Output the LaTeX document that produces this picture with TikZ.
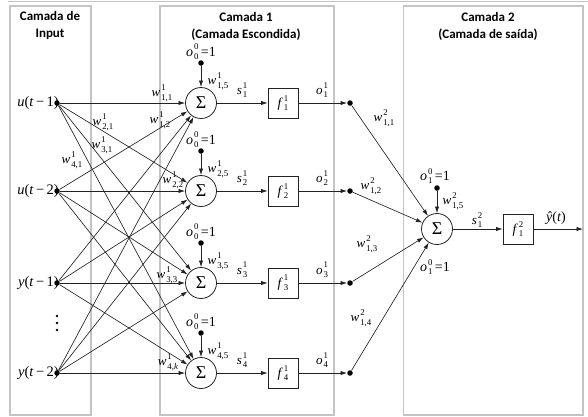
\documentclass[tikz,border=0pt]{standalone}
\usepackage{fontspec}
\setmainfont{Liberation Serif}
\newfontfamily\hdrfont{Carlito}
\usetikzlibrary{arrows.meta}

\definecolor{boxgray}{HTML}{C4C4C4}
\definecolor{linecol}{HTML}{222222}

% small indices, and a symbol with a superscript stacked over a subscript
\newcommand\idxfont{\fontsize{8.8}{9}\selectfont}
\newcommand\wl[3]{\textit{#1}\kern0.9pt\makebox[0pt][l]{\raisebox{6.2pt}{\idxfont #2}}\raisebox{-3.6pt}{\idxfont #3}}

\tikzset{
  layerbox/.style={draw=boxgray, line width=1.1pt},
  conn/.style={draw=linecol, line width=0.65pt, -{Latex[length=6.5pt,width=4.2pt]}},
  dotnode/.style={circle, fill=black, inner sep=0pt, minimum size=5.5pt},
  smalldot/.style={circle, fill=black, inner sep=0pt, minimum size=2.6pt},
  sumnode/.style={circle, draw=linecol, line width=0.8pt, minimum size=31pt, inner sep=0pt,
                  font=\fontsize{18}{18}\selectfont},
  actbox/.style={draw=linecol, line width=0.8pt, minimum width=30pt, minimum height=30pt,
                 inner sep=0pt, font=\fontsize{13.5}{14}\selectfont},
  lab/.style={inner sep=0pt, font=\fontsize{13}{13}\selectfont},
  biaslab/.style={inner sep=0pt, font=\fontsize{14}{14}\selectfont},
  inlab/.style={inner sep=0pt, anchor=east, font=\fontsize{14.5}{15}\selectfont},
  hdr/.style={inner sep=0pt, align=center, font=\hdrfont\bfseries\fontsize{13}{17}\selectfont},
}

\begin{document}
\begin{tikzpicture}[x=1pt, y=-1pt]
  \useasboundingbox (0,0) rectangle (588,416);

  % frame line and layer boxes
  \draw[boxgray, line width=1pt] (8,1) -- (588,1);
  \draw[layerbox] (10,6) rectangle (91,415);
  \draw[layerbox] (160,6) rectangle (334,415);
  \draw[layerbox] (403.5,6) rectangle (583,415);

  % headers
  \node[hdr] (h0) at (50,25.5) {Camada de\\Input};
  \node[hdr] (h1) at (246,26) {Camada 1\\(Camada Escondida)};
  \node[hdr] (h2) at (488,26) {Camada 2\\(Camada de saída)};

  % input layer
  \node[dotnode] (I1) at (57,103) {};
  \node[dotnode] (I2) at (57,191) {};
  \node[dotnode] (I3) at (57,283) {};
  \node[dotnode] (I4) at (57,373) {};
  \node[inlab] (L1) at (59,103) {\textit{u}(\textit{t}\,−\,1)};
  \node[inlab] (L2) at (59,191) {\textit{u}(\textit{t}\,−\,2)};
  \node[inlab] (L3) at (59,283) {\textit{y}(\textit{t}\,−\,1)};
  \node[inlab] (L4) at (59,373) {\textit{y}(\textit{t}\,−\,2)};
  \node[smalldot] (v1) at (57,316) {};
  \node[smalldot] (v2) at (57,323) {};
  \node[smalldot] (v3) at (57,330) {};

  % hidden layer
  \foreach \i/\y in {1/103,2/191,3/283,4/373} {
    \node[sumnode] (S\i) at (201,\y) {Σ};
    \node[actbox] (F\i) at (283,\y) {\wl{f}{1}{\i}};
    \node[dotnode] (H\i) at (350,\y) {};
    \node[dotnode] (B\i) at (201,{\y-40}) {};
    \node[biaslab] (BL\i) at (201,{\y-51}) {\wl{o}{0}{0}\,=1};
    \node[lab] (BW\i) at (218,{\y-22}) {\wl{w}{1}{\i,5}};
    \node[lab] (SL\i) at (242,{\y-13}) {\wl{s}{1}{\i}};
    \node[lab] (OL\i) at (322,{\y-13}) {\wl{o}{1}{\i}};
  }

  % input weights
  \node[lab] (w11) at (162,93) {\wl{w}{1}{1,1}};
  \node[lab] (w12) at (160,120) {\wl{w}{1}{1,2}};
  \node[lab] (w21) at (103,122) {\wl{w}{1}{2,1}};
  \node[lab] (w31) at (102,145) {\wl{w}{1}{3,1}};
  \node[lab] (w41) at (72,160) {\wl{w}{1}{4,1}};
  \node[lab] (w22) at (173,180) {\wl{w}{1}{2,2}};
  \node[lab] (w33) at (167,275) {\wl{w}{1}{3,3}};
  \node[lab] (w4k) at (168,362) {\wl{w}{1}{4,\textit{k}}};

  % output layer
  \node[sumnode] (O) at (437,229) {Σ};
  \node[dotnode] (BO) at (437,188) {};
  \node[biaslab] (BOL) at (435,176) {\wl{o}{0}{1}\,=1};
  \node[biaslab] (BOL2) at (435,267) {\wl{o}{0}{1}\,=1};
  \node[lab] (BOW) at (453,201) {\wl{w}{2}{1,5}};
  \node[actbox] (FO) at (518,229) {\wl{f}{2}{1}};
  \node[lab] (SO) at (477,220) {\wl{s}{2}{1}};
  \node[lab, font=\fontsize{14}{14}\selectfont] (YL) at (556,218) {\textit{ŷ}(\textit{t})};
  \coordinate (Yend) at (583,229);

  % output weights
  \node[lab] (v11) at (384,118) {\wl{w}{2}{1,1}};
  \node[lab] (v12) at (371,186) {\wl{w}{2}{1,2}};
  \node[lab] (v13) at (367,244) {\wl{w}{2}{1,3}};
  \node[lab] (v14) at (361,318) {\wl{w}{2}{1,4}};

  % connections
  \foreach \a in {1,...,4} {
    \foreach \b in {1,...,4} {
      \draw[conn] (I\a) -- (S\b);
    }
    \draw[conn] (B\a) -- (S\a);
    \draw[conn] (S\a) -- (F\a);
    \draw[conn] (F\a) -- (H\a);
    \draw[conn] (H\a) -- (O);
  }
  \draw[conn] (BO) -- (O);
  \draw[conn] (O) -- (FO);
  \draw[conn] (FO) -- (Yend);
\end{tikzpicture}
\end{document}
